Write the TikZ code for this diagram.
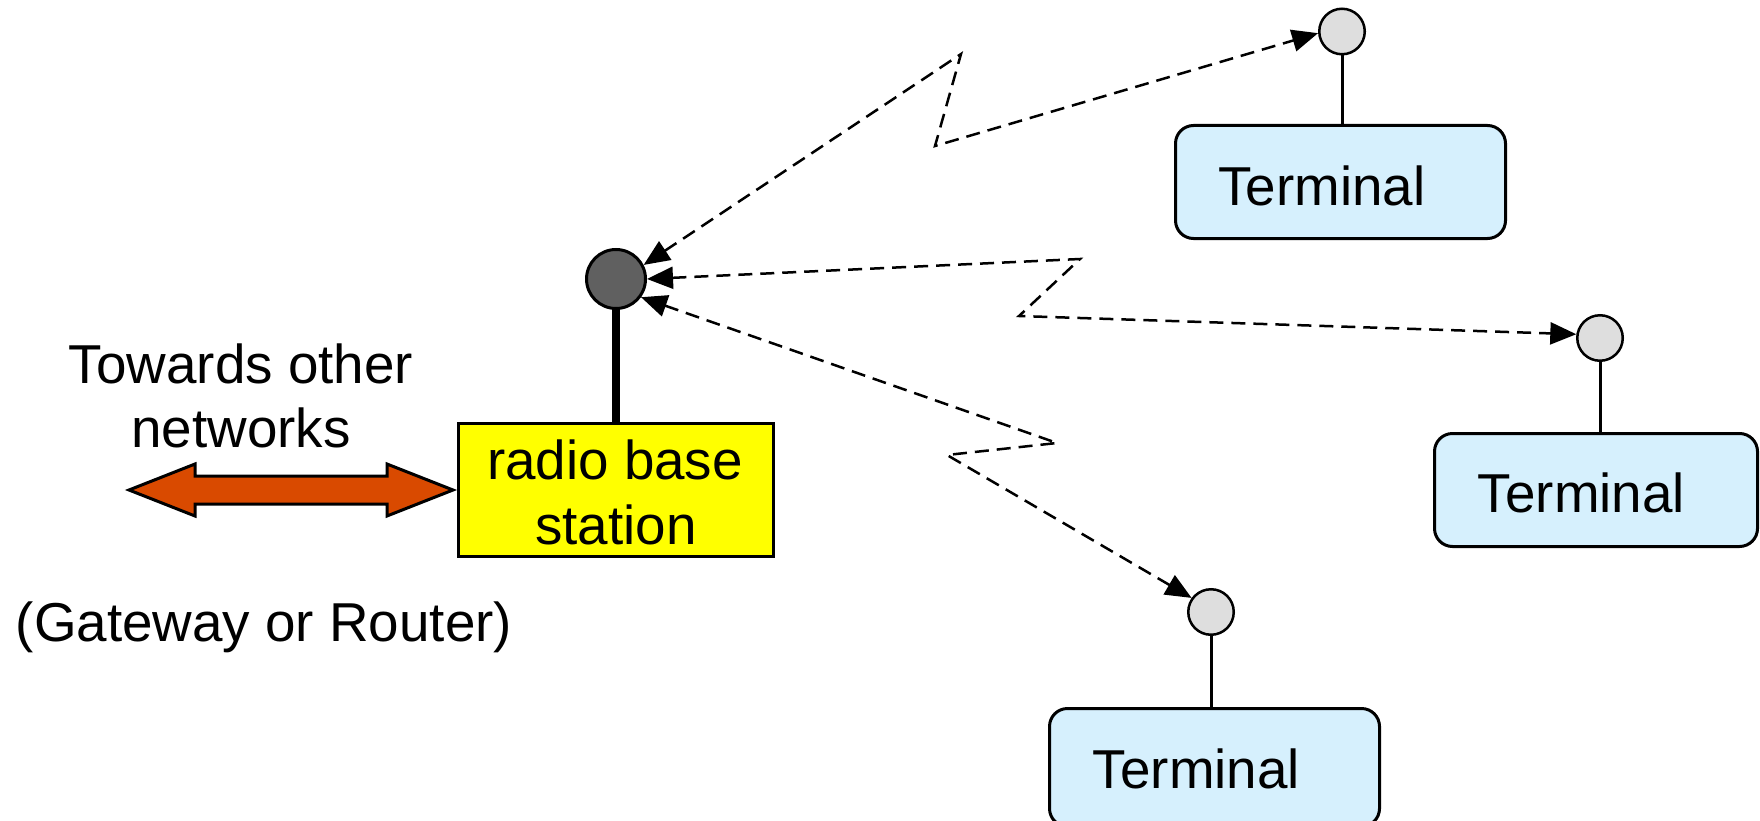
\documentclass[tikz,border=0pt]{standalone}
\usepackage{fontspec}
\setmainfont{Liberation Sans}
\usetikzlibrary{arrows.meta}
\definecolor{bsgray}{RGB}{96,96,96}
\definecolor{antgray}{RGB}{222,222,222}
\definecolor{termblue}{RGB}{214,240,253}
\definecolor{netorange}{RGB}{217,74,0}
\definecolor{bsyellow}{RGB}{255,255,0}
\begin{document}
\begin{tikzpicture}[x=1pt,y=-1pt,
  txt/.style={font=\fontsize{54.8}{64}\selectfont, inner sep=0pt, anchor=base},
  termbox/.style={draw, line width=3pt, fill=termblue, rounded corners=18pt,
    minimum width=330pt, minimum height=113pt, inner sep=0pt},
  antdot/.style={circle, draw, line width=2.5pt, fill=antgray, minimum size=45.5pt, inner sep=0pt},
  stem/.style={line width=3pt},
  radiolink/.style={line width=2.5pt, dash pattern=on 14pt off 8pt,
    {Triangle[length=26pt,width=22pt]}-{Triangle[length=26pt,width=22pt]}},
]
\useasboundingbox (0,0) rectangle (1760,821);

% base station
\node[circle, draw, line width=3pt, fill=bsgray, minimum size=59pt, inner sep=0pt] (bsant) at (616,279) {};
\node[draw, line width=3pt, fill=bsyellow, minimum width=315pt, minimum height=133pt, inner sep=0pt] (bs) at (616,490) {};
\draw[line width=8pt] (bsant.south) -- (bs.north);
\node[txt] (bsl1) at (615,479) {radio base};
\node[txt] (bsl2) at (616,544) {station};

% towards other networks
\node[txt] (tw1) at (241,383) {Towards other};
\node[txt] (tw2) at (241,447) {networks};
\node[txt] (gw) at (264,641) {(Gateway or Router)};
\draw[line width=3pt, fill=netorange, line join=miter]
  (129,490) -- (195,464) -- (195,476) -- (387,476) -- (387,464) -- (453,490)
  -- (387,516) -- (387,504) -- (195,504) -- (195,516) -- cycle;

% terminals
\node[termbox] (t1) at (1340.5,182) {};
\node[antdot] (t1ant) at (1342,31.5) {};
\draw[stem] (t1ant.south) -- (t1.north -| t1ant);
\node[txt] at (1322,205) {Terminal};

\node[termbox, minimum width=323pt] (t2) at (1596,490) {};
\node[antdot] (t2ant) at (1600,338) {};
\draw[stem] (t2ant.south) -- (t2.north -| t2ant);
\node[txt] at (1581.5,512) {Terminal};

\node[termbox, minimum height=118pt] (t3) at (1214.5,767.5) {};
\node[antdot] (t3ant) at (1211,612) {};
\draw[stem] (t3ant.south) -- (t3.north -| t3ant);
\node[txt] at (1196.5,788) {Terminal};

% radio links
\coordinate (z1a) at (961,54);
\coordinate (z1b) at (935,146);
\coordinate (z2a) at (1080,259);
\coordinate (z2b) at (1019,316);
\coordinate (z3a) at (1057,443);
\coordinate (z3b) at (947,455);
\draw[radiolink] (bsant.27) -- (z1a) -- (z1b) -- (t1ant.184);
\draw[radiolink] (bsant.east) -- (z2a) -- (z2b) -- (t2ant.171);
\draw[radiolink] (bsant.-36) -- (z3a) -- (z3b) -- (t3ant.144);
\end{tikzpicture}
\end{document}
